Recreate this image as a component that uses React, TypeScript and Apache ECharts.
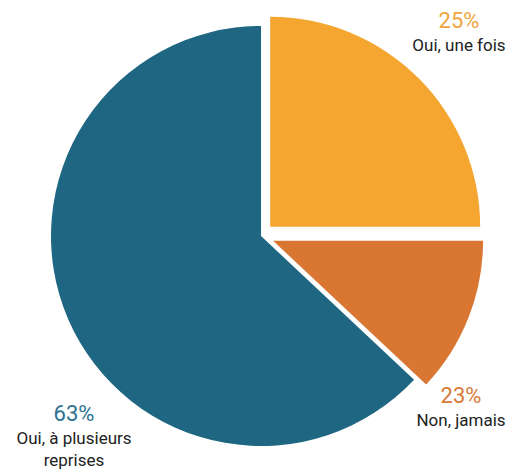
import React, { useEffect, useRef } from "react";
import * as echarts from "echarts";

const categories = ["Oui, une fois", "Non, jamais", "Oui, à plusieurs\nreprises"];
const sliceValues = [25, 12, 63];
const shownPercents = ["25%", "23%", "63%"];
const exploded = [true, true, false];

const colors = ["#F5A631", "#D97631", "#1E6682"];
const labelColors = ["#F0A53C", "#D9793A", "#2C7190"];
const labelAnchors: [number, number][] = [
  [459, 31],
  [461, 406],
  [74, 435],
];

export default function App() {
  const ref = useRef<HTMLDivElement>(null);
  useEffect(() => {
    if (!ref.current) return;
    const chart = echarts.init(ref.current, undefined, { renderer: "svg" });
    const font = "Roboto, 'Noto Sans', sans-serif";
    const center = [261, 236];
    const radius = [0, 210];
    chart.setOption({
      animation: false,
      backgroundColor: "#ffffff",
      series: [
        {
          type: "pie",
          center,
          radius,
          startAngle: 90,
          clockwise: true,
          selectedMode: "multiple",
          selectedOffset: 13,
          silent: true,
          emphasis: { disabled: true },
          label: { show: false },
          labelLine: { show: false },
          data: categories.map((name, i) => ({
            name,
            value: sliceValues[i],
            selected: exploded[i],
            itemStyle: { color: colors[i], borderWidth: 0 },
          })),
        },
        {
          type: "pie",
          center,
          radius,
          startAngle: 90,
          clockwise: true,
          silent: true,
          avoidLabelOverlap: false,
          emphasis: { disabled: true },
          labelLine: { show: false },
          itemStyle: { color: "rgba(0,0,0,0)", borderWidth: 0 },
          data: categories.map((name, i) => ({
            name,
            value: sliceValues[i],
            label: {
              show: true,
              position: "outside",
              overflow: "none",
              alignTo: "none",
              formatter: () =>
                `{p|${shownPercents[i]}}\n` +
                name
                  .split("\n")
                  .map((l) => `{n|${l}}`)
                  .join("\n"),
              rich: {
                p: {
                  fontSize: 22,
                  lineHeight: 28,
                  color: labelColors[i],
                  fontFamily: font,
                  align: "center",
                },
                n: {
                  fontSize: 17,
                  lineHeight: 22,
                  color: "#222222",
                  fontFamily: font,
                  align: "center",
                },
              },
            },
          })),
          labelLayout: (params: any) => {
            const a = labelAnchors[params.dataIndex];
            return {
              x: a[0],
              y: a[1],
              align: "center",
              verticalAlign: "middle",
              hideOverlap: false,
            };
          },
        },
      ],
    });
    return () => chart.dispose();
  }, []);
  return (
    <div
      ref={ref}
      style={{ position: "fixed", left: 0, top: 0, width: 512, height: 472 }}
    />
  );
}
